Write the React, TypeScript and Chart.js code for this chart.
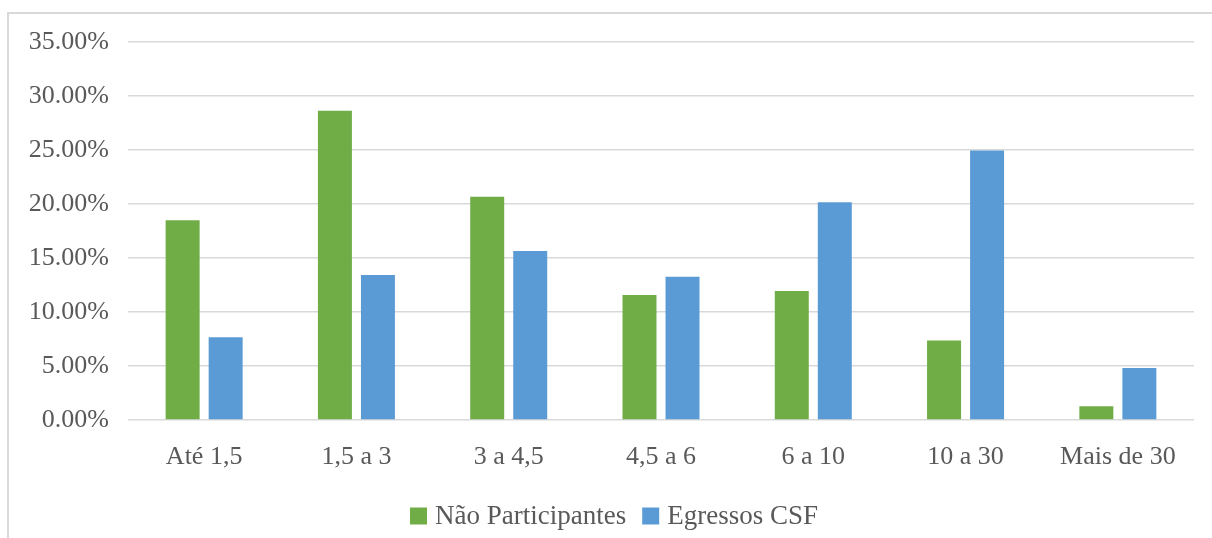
import React, { useEffect, useRef } from "react";
import { Chart, registerables } from "chart.js";

Chart.register(...registerables);

// Income ranges (categories) and share of respondents in each range, in percent
const categories = ["Até 1,5", "1,5 a 3", "3 a 4,5", "4,5 a 6", "6 a 10", "10 a 30", "Mais de 30"];
const naoParticipantes = [18.5, 28.64, 20.66, 11.57, 11.94, 7.36, 1.27];
const egressosCsf = [7.67, 13.42, 15.65, 13.27, 20.16, 24.95, 4.82];
const seriesNames = ["Não Participantes", "Egressos CSF"];
const seriesColors = ["#70AD47", "#5B9BD5"];
const yMax = 35;
const yStep = 5;

const FONT = "'Liberation Serif', 'Times New Roman', serif";
const TEXT = "#595959";
const GRID = "#d9d9d9";

// Compact legend row under the axis: square swatch, short gap, label
const bottomLegend = {
  id: "bottomLegend",
  afterDraw(chart: any) {
    const ctx = chart.ctx as CanvasRenderingContext2D;
    const box = 17;
    const gapText = 8;
    const gapItem = 16;
    const centerX = 614;
    const midY = 516;
    ctx.save();
    ctx.font = `27px ${FONT}`;
    ctx.textBaseline = "middle";
    ctx.textAlign = "left";
    const items = chart.data.datasets.map((d: any) => ({
      text: d.label as string,
      color: d.backgroundColor as string,
      w: ctx.measureText(d.label).width,
    }));
    const total =
      items.reduce((s: number, it: any) => s + box + gapText + it.w, 0) + gapItem * (items.length - 1);
    let x = centerX - total / 2;
    for (const it of items) {
      ctx.fillStyle = it.color;
      ctx.fillRect(x, midY - box / 2, box, box);
      x += box + gapText;
      ctx.fillStyle = TEXT;
      ctx.fillText(it.text, x, midY + 1);
      x += it.w + gapItem;
    }
    ctx.restore();
  },
};

export default function App() {
  const canvasRef = useRef<HTMLCanvasElement | null>(null);

  useEffect(() => {
    const canvas = canvasRef.current;
    if (!canvas) return;
    const chart = new Chart(canvas, {
      type: "bar",
      data: {
        labels: categories,
        datasets: [
          {
            label: seriesNames[0],
            data: naoParticipantes,
            backgroundColor: seriesColors[0],
            categoryPercentage: 0.565,
            barPercentage: 0.79,
          },
          {
            label: seriesNames[1],
            data: egressosCsf,
            backgroundColor: seriesColors[1],
            categoryPercentage: 0.565,
            barPercentage: 0.79,
          },
        ],
      },
      options: {
        responsive: false,
        animation: false,
        layout: { padding: { top: 42, right: 18, left: 0, bottom: 45 } },
        plugins: {
          tooltip: { enabled: false },
          legend: { display: false },
        },
        scales: {
          x: {
            grid: { display: false },
            border: { display: false },
            ticks: {
              color: TEXT,
              font: { family: FONT, size: 26 },
              padding: 14,
              maxRotation: 0,
            },
            afterFit: (scale: any) => {
              scale.height = 73;
            },
          },
          y: {
            min: 0,
            max: yMax,
            border: { display: false },
            grid: { color: GRID, lineWidth: 1.5, drawTicks: false },
            ticks: {
              stepSize: yStep,
              padding: 19,
              color: TEXT,
              font: { family: FONT, size: 26 },
              callback: (v: any) => Number(v).toFixed(2) + "%",
            },
            afterFit: (scale: any) => {
              scale.width = 128;
            },
          },
        },
      },
      plugins: [bottomLegend],
    });
    return () => chart.destroy();
  }, []);

  return (
    <div style={{ position: "absolute", left: 0, top: 0, width: 1212, height: 538, overflow: "hidden" }}>
      <div
        style={{
          position: "absolute",
          left: 7,
          top: 12,
          width: 1205,
          height: 526,
          borderTop: "2px solid #d9d9d9",
          borderLeft: "2px solid #d9d9d9",
          boxSizing: "border-box",
        }}
      />
      <canvas
        ref={canvasRef}
        width={1212}
        height={538}
        style={{ position: "absolute", left: 0, top: 0, width: 1212, height: 538 }}
      />
    </div>
  );
}
